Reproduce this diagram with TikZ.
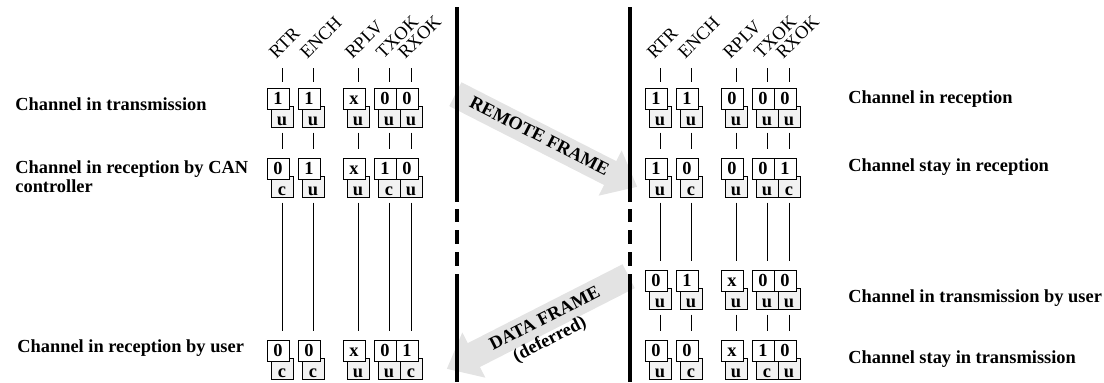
\documentclass[tikz,border=0pt]{standalone}
\usepackage{fontspec}
\setmainfont{Liberation Serif}
\usepackage{tikz}
\usetikzlibrary{shapes.arrows}
\definecolor{framegray}{HTML}{E3E3E3}
\definecolor{ownergray}{HTML}{F2F2F2}
\newcommand{\diagfont}{\fontsize{9.2}{9.5}\selectfont}
\tikzstyle{valbox} = [draw, fill=white, line width=0.5pt, minimum width=11pt, minimum height=10.5pt, inner sep=0pt, text height=6.3pt, text depth=0pt, font=\diagfont\bfseries]
\tikzstyle{ownerbox} = [draw, fill=ownergray, line width=0.5pt, minimum width=11pt, minimum height=10.5pt, inner xsep=0pt, inner ysep=0.5pt, text height=9pt, text depth=0.5pt, font=\diagfont\bfseries]
\tikzstyle{collabel} = [rotate=45, anchor=base west, inner sep=0pt, font=\diagfont]
\tikzstyle{rowlabel} = [inner sep=0pt, font=\diagfont\bfseries]
\tikzstyle{vline} = [line width=0.4pt, shorten <=2.5pt, shorten >=4.5pt]
\tikzstyle{sepline} = [line width=1.75pt]
\tikzstyle{framearrow} = [single arrow, fill=framegray, font=\diagfont\bfseries, minimum height=102pt, single arrow head extend=6pt, single arrow tip angle=80, inner xsep=2pt, inner ysep=3pt, text height=6pt, text depth=1pt]
\newcommand{\bitcell}[5]{%
  \node[ownerbox] (o-#1) at (#2,#3+28.5) {#5};
  \node[valbox] (v-#1) at (#2-4,#3+10.5) {#4};
}

\begin{document}
\begin{tikzpicture}[x=0.5pt, y=-0.5pt]
\useasboundingbox (0,0) rectangle (1104,382);
\node[framearrow, rotate=-27, anchor=tail] (remote) at (455,94) {REMOTE FRAME};
\node[framearrow, shape border rotate=180, rotate=27, anchor=tail] (data) at (629,276) {DATA FRAME};
\node[rowlabel, rotate=27] (deferred) at (550,340) {(deferred)};
\foreach \sx in {457,630} {
  \foreach \a/\b in {7/202, 209/222, 230/244, 252/266, 274/382} {
    \draw[sepline] (\sx,\a) -- (\sx,\b);
  }
}
\foreach \n/\x [count=\i] in {RTR/282, ENCH/313, RPLV/358, TXOK/389, RXOK/411} {
  \coordinate (t-L\i) at (\x,68);
  \node[collabel] (h-L\i) at (\x-6,60) {\n};
  \coordinate (t-R\i) at (\x+378,68);
  \node[collabel] (h-R\i) at (\x+372,60) {\n};
}
\foreach \x/\v/\o [count=\i] in {282/1/u, 313/1/u, 358/x/u, 389/0/u, 411/0/u} {\bitcell{L1-\i}{\x}{88}{\v}{\o}}
\foreach \x/\v/\o [count=\i] in {282/0/c, 313/1/u, 358/x/u, 389/1/c, 411/0/u} {\bitcell{L2-\i}{\x}{158}{\v}{\o}}
\foreach \x/\v/\o [count=\i] in {282/0/c, 313/0/c, 358/x/u, 389/0/u, 411/1/c} {\bitcell{L4-\i}{\x}{340}{\v}{\o}}
\foreach \x/\v/\o [count=\i] in {660/1/u, 691/1/u, 736/0/u, 767/0/u, 789/0/u} {\bitcell{R1-\i}{\x}{88}{\v}{\o}}
\foreach \x/\v/\o [count=\i] in {660/1/u, 691/0/c, 736/0/u, 767/0/u, 789/1/c} {\bitcell{R2-\i}{\x}{158}{\v}{\o}}
\foreach \x/\v/\o [count=\i] in {660/0/u, 691/1/u, 736/x/u, 767/0/u, 789/0/u} {\bitcell{R3-\i}{\x}{270}{\v}{\o}}
\foreach \x/\v/\o [count=\i] in {660/0/u, 691/0/c, 736/x/u, 767/1/c, 789/0/u} {\bitcell{R4-\i}{\x}{340}{\v}{\o}}
\foreach \i in {1,...,5} {
  \draw[vline, shorten <=0pt, shorten >=3pt] (t-L\i) -- (t-L\i |- v-L1-\i.north);
  \draw[vline] (o-L1-\i.south) -- (o-L1-\i.south |- v-L2-\i.north);
  \draw[vline] (o-L2-\i.south) -- (o-L2-\i.south |- v-L4-\i.north);
  \draw[vline, shorten <=0pt, shorten >=3pt] (t-R\i) -- (t-R\i |- v-R1-\i.north);
  \draw[vline] (o-R1-\i.south) -- (o-R1-\i.south |- v-R2-\i.north);
  \draw[vline] (o-R2-\i.south) -- (o-R2-\i.south |- v-R3-\i.north);
  \draw[vline] (o-R3-\i.south) -- (o-R3-\i.south |- v-R4-\i.north);
}
\node[rowlabel, anchor=base west] (s-L1) at (15,110) {Channel in transmission};
\node[rowlabel, anchor=north west, align=left] (s-L2) at (15,160) {Channel in reception by CAN\\controller};
\node[rowlabel, anchor=base west] (s-L4) at (17,352) {Channel in reception by user};
\node[rowlabel, anchor=base west] (s-R1) at (848,103) {Channel in reception};
\node[rowlabel, anchor=base west] (s-R2) at (848,171) {Channel stay in reception};
\node[rowlabel, anchor=base west] (s-R3) at (848,302) {Channel in transmission by user};
\node[rowlabel, anchor=base west] (s-R4) at (848,363) {Channel stay in transmission};
\end{tikzpicture}
\end{document}
